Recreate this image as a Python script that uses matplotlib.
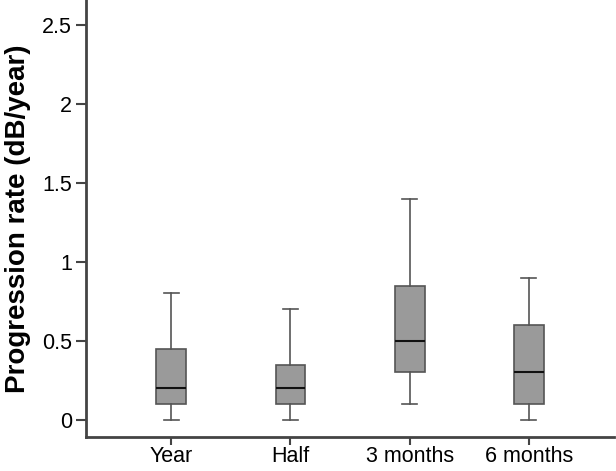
import matplotlib
matplotlib.use("Agg")
import matplotlib.pyplot as plt

plt.rcParams['font.family'] = ['Liberation Sans', 'DejaVu Sans']

groups = ['Year', 'Half', '3 months', '6 months']
whislo = [0.0, 0.0, 0.1, 0.0]
q1 = [0.1, 0.1, 0.3, 0.1]
med = [0.2, 0.2, 0.5, 0.3]
q3 = [0.45, 0.35, 0.85, 0.6]
whishi = [0.8, 0.7, 1.4, 0.9]

stats = []
for i in range(len(groups)):
    stats.append({'label': groups[i], 'whislo': whislo[i], 'q1': q1[i],
                  'med': med[i], 'q3': q3[i], 'whishi': whishi[i], 'fliers': []})

fig = plt.figure(figsize=(6.16, 4.71), dpi=100)
ax = fig.add_axes([0.1396, 0.072, 0.8574, 0.928])

edge = '#555555'
ax.bxp(stats, positions=[1, 2, 3, 4], widths=0.25, patch_artist=True,
       showfliers=False,
       boxprops=dict(facecolor='#9a9a9a', edgecolor=edge, linewidth=1.2),
       medianprops=dict(color='#111111', linewidth=1.5),
       whiskerprops=dict(color=edge, linewidth=1.2),
       capprops=dict(color=edge, linewidth=1.2))

ax.set_xlim(0.285, 4.715)
ax.set_ylim(-0.11, 2.66)
ax.set_yticks([0, 0.5, 1, 1.5, 2, 2.5])
ax.set_yticklabels(['0', '0.5', '1', '1.5', '2', '2.5'])
ax.set_xticks([1, 2, 3, 4])
ax.set_xticklabels(groups)

for s in ['top', 'right']:
    ax.spines[s].set_visible(False)
for s in ['left', 'bottom']:
    ax.spines[s].set_color('#444444')
    ax.spines[s].set_linewidth(2)

ax.tick_params(axis='both', colors='#444444', labelcolor='black',
               labelsize=15.5, length=7, width=1.5, direction='out', pad=3)
ax.tick_params(axis='x', length=6, pad=0.5)
ax.set_ylabel('Progression rate (dB/year)', fontsize=20, fontweight='bold',
              labelpad=8)

fig.savefig('out.png', dpi=100)
